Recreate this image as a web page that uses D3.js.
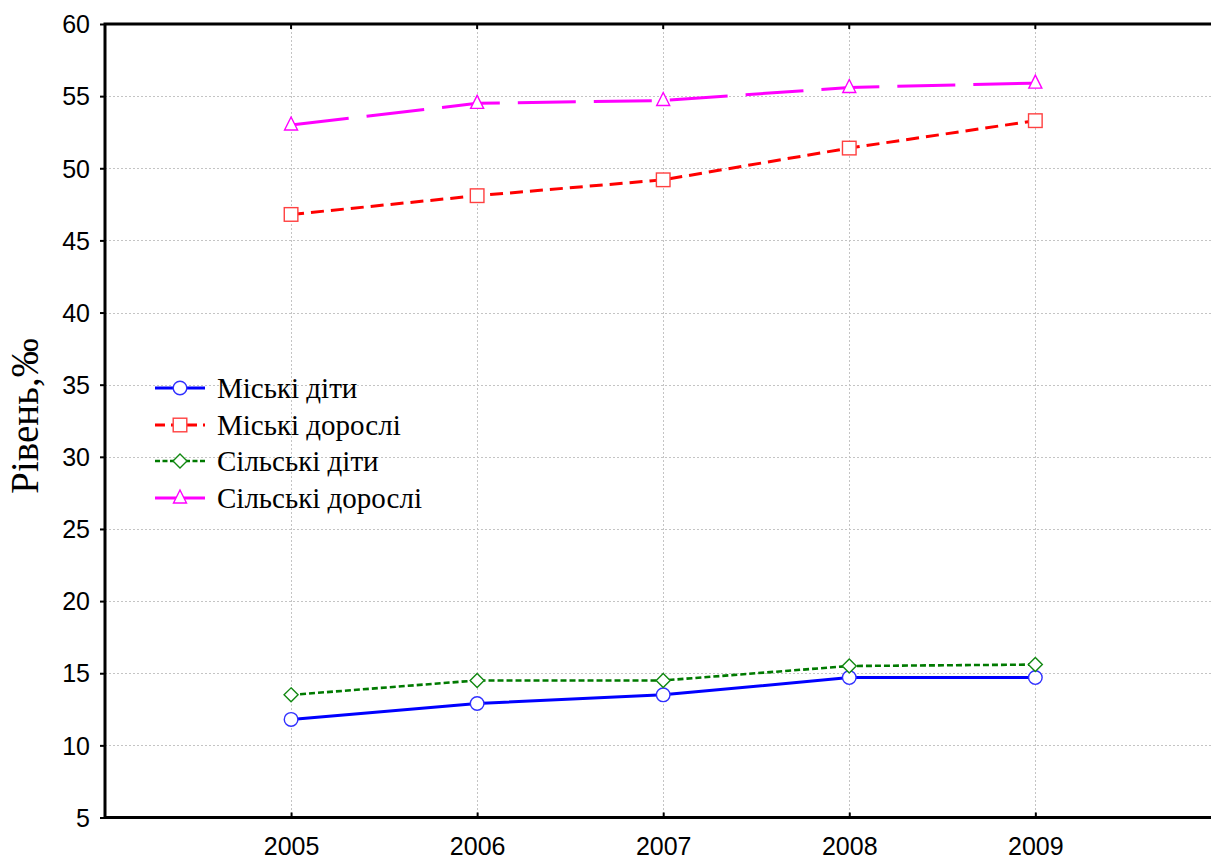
<!DOCTYPE html>
<html>
<head>
<meta charset="utf-8">
<script src="https://cdn.jsdelivr.net/npm/d3@7"></script>
<style>
  html, body { margin: 0; padding: 0; background: #fff; overflow: hidden; }
  svg { display: block; }
</style>
</head>
<body>
<svg id="chart" width="1211" height="861"></svg>
<script>
// Years on the x axis
const years = [2005, 2006, 2007, 2008, 2009];

// Rates per 1000 population
const urbanChildren = [11.8, 12.9, 13.5, 14.7, 14.7];
const urbanAdults   = [46.8, 48.1, 49.2, 51.4, 53.3];
const ruralChildren = [13.5, 14.5, 14.5, 15.5, 15.6];
const ruralAdults   = [53.0, 54.5, 54.7, 55.6, 55.9];

const seriesNames = ["Міські діти", "Міські дорослі", "Сільські діти", "Сільські дорослі"];
const yTicks = [5, 10, 15, 20, 25, 30, 35, 40, 45, 50, 55, 60];

const series = [
  { name: seriesNames[0], values: urbanChildren, color: "#0000ff", markStroke: "#3030ff", dash: null,     width: 3,   symbol: "circle" },
  { name: seriesNames[1], values: urbanAdults,   color: "#ff0000", markStroke: "#ff4040", dash: "13,7",   width: 3,   symbol: "square" },
  { name: seriesNames[2], values: ruralChildren, color: "#007a00", markStroke: "#118811", dash: "6,3",    width: 2.6, symbol: "diamond" },
  { name: seriesNames[3], values: ruralAdults,   color: "#ff00ff", markStroke: "#ff00ff", dash: "58,18",  width: 3,   symbol: "triangle" }
];

const svg = d3.select("#chart");
const plotLeft = 105, plotTop = 24, plotBottom = 817.5, plotRight = 1221.4;

const x = d3.scaleLinear().domain([2004, 2010]).range([plotLeft, plotRight]);
const y = d3.scaleLinear().domain([5, 60]).range([plotBottom, plotTop]);

const sansFont = "'Liberation Sans', Arial, sans-serif";
const serifFont = "'Liberation Serif', 'Times New Roman', serif";

// Grid
const grid = svg.append("g").attr("stroke", "#c4c4c4").attr("stroke-width", 1).attr("stroke-dasharray", "2,2");
grid.selectAll("line.h").data(yTicks.filter(t => t > 5 && t < 60)).join("line")
  .attr("class", "h")
  .attr("x1", plotLeft).attr("x2", plotRight)
  .attr("y1", d => Math.round(y(d)) + 0.5).attr("y2", d => Math.round(y(d)) + 0.5);
grid.selectAll("line.v").data(years).join("line")
  .attr("class", "v")
  .attr("y1", plotTop).attr("y2", plotBottom)
  .attr("x1", d => Math.round(x(d)) + 0.5).attr("x2", d => Math.round(x(d)) + 0.5);

// Axes
const yAxis = d3.axisLeft(y).tickValues(yTicks).tickSize(5).tickPadding(10);
const gy = svg.append("g").attr("transform", `translate(${plotLeft},0)`).call(yAxis);
gy.select(".domain").remove();
gy.selectAll(".tick line").attr("stroke", "#000").attr("stroke-width", 2);
gy.selectAll(".tick text").attr("font-family", sansFont)
  .attr("font-size", 25).attr("fill", "#000").attr("dy", "0.35em");

const xAxis = d3.axisBottom(x).tickValues(years).tickFormat(d3.format("d")).tickSize(-5).tickPadding(20);
const gx = svg.append("g").attr("transform", `translate(0,${plotBottom})`).call(xAxis);
gx.select(".domain").remove();
gx.selectAll(".tick line").attr("stroke", "#000").attr("stroke-width", 2);
gx.selectAll(".tick text").attr("font-family", sansFont)
  .attr("font-size", 25).attr("fill", "#000");

// Top ticks pointing inward
svg.append("g").selectAll("line").data(years).join("line")
  .attr("x1", d => x(d)).attr("x2", d => x(d))
  .attr("y1", plotTop).attr("y2", plotTop + 5)
  .attr("stroke", "#000").attr("stroke-width", 2);

// Frame: left, top, bottom
svg.append("path")
  .attr("d", `M${plotRight},${plotTop}H${plotLeft}V${plotBottom}H${plotRight}`)
  .attr("fill", "none").attr("stroke", "#000").attr("stroke-width", 3);

// Y axis title
svg.append("text")
  .attr("transform", `translate(38,416) rotate(-90)`)
  .attr("text-anchor", "middle")
  .attr("font-family", serifFont)
  .attr("font-size", 39).attr("fill", "#000")
  .text("Рівень,‰");

// Marker drawing
function drawMarker(g, symbol, cx, cy, stroke) {
  const common = s => s.attr("fill", "#fff").attr("stroke", stroke).attr("stroke-width", 1.4);
  if (symbol === "circle") {
    g.append("circle").attr("cx", cx).attr("cy", cy).attr("r", 6.8).call(common);
  } else if (symbol === "square") {
    g.append("rect").attr("x", cx - 6.8).attr("y", cy - 6.8).attr("width", 13.6).attr("height", 13.6).call(common);
  } else if (symbol === "diamond") {
    g.append("path").attr("d", `M${cx},${cy - 7}L${cx + 7},${cy}L${cx},${cy + 7}L${cx - 7},${cy}Z`).call(common);
  } else {
    g.append("path").attr("d", `M${cx},${cy - 8}L${cx + 6.5},${cy + 5}L${cx - 6.5},${cy + 5}Z`).call(common);
  }
}

const line = d3.line().x((d, i) => x(years[i])).y(d => y(d));

series.forEach(s => {
  svg.append("path")
    .datum(s.values)
    .attr("d", line)
    .attr("fill", "none")
    .attr("stroke", s.color)
    .attr("stroke-width", s.width)
    .attr("stroke-dasharray", s.dash);
});
series.forEach(s => {
  const g = svg.append("g");
  s.values.forEach((v, i) => drawMarker(g, s.symbol, x(years[i]), y(v), s.markStroke));
});

// Legend
const legend = svg.append("g");
const legendY = [388, 425, 461, 498];
series.forEach((s, i) => {
  const ly = legendY[i];
  legend.append("line")
    .attr("x1", 155).attr("x2", 205).attr("y1", ly).attr("y2", ly)
    .attr("stroke", s.color).attr("stroke-width", s.width)
    .attr("stroke-dasharray", s.symbol === "square" ? "10,6" : s.symbol === "diamond" ? "5,2.5" : null);
  drawMarker(legend, s.symbol, 180, ly, s.markStroke);
  legend.append("text")
    .attr("x", 217).attr("y", ly + 10)
    .attr("font-family", serifFont)
    .attr("font-size", 29).attr("fill", "#000")
    .text(s.name);
});
</script>
</body>
</html>
